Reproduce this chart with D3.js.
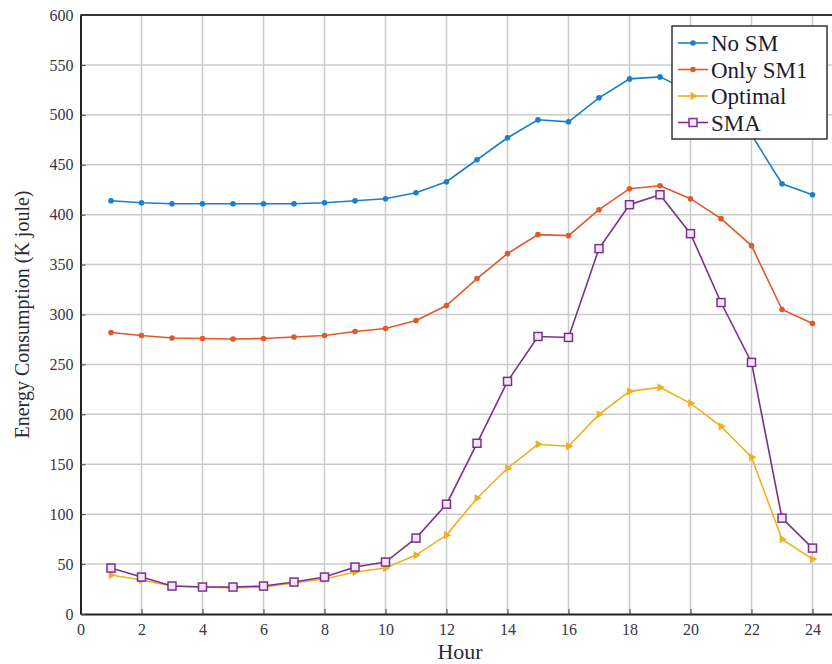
<!DOCTYPE html>
<html>
<head>
<meta charset="utf-8">
<script src="https://cdn.jsdelivr.net/npm/d3@7"></script>
<style>
  body { margin: 0; background: #fff; }
  svg { display: block; font-family: "Liberation Serif", "DejaVu Serif", serif; }
</style>
</head>
<body>
<div id="chart"></div>
<script>
// hours on the x axis
const hours = d3.range(1, 25);

const noSM = [414, 412, 411, 411, 411, 411, 411, 412, 414, 416, 422, 433,
              455, 477, 495, 493, 517, 536, 538, 523, 505, 480, 431, 420];
const onlySM1 = [282, 279, 276.5, 276, 275.5, 276, 277.5, 279, 283, 286, 294, 309,
                 336, 361, 380, 379, 405, 426, 429, 416, 396, 369, 305, 291];
const optimal = [39, 34, 28, 27, 26, 27, 31, 35, 42, 46, 59, 79,
                 116, 146, 170, 168, 200, 223, 227, 211, 188, 157, 75, 55];
const sma = [46, 37, 28, 27, 27, 28, 32, 37, 47, 52, 76, 110,
             171, 233, 278, 277, 366, 410, 420, 381, 312, 252, 96, 66];

const seriesNames = ["No SM", "Only SM1", "Optimal", "SMA"];
const seriesColors = ["#1a7ecf", "#E0592A", "#EDB120", "#7E2F8E"];
const seriesMarkers = ["dot", "dot", "triangle", "square"];

const xTicks = d3.range(0, 25, 2);
const yTicks = d3.range(0, 601, 50);

const settings = {
  width: 832,
  height: 664,
  margins: { top: 15, left: 80.5, bottom: 50 }
};

const allSeries = [noSM, onlySM1, optimal, sma].map((vals, i) => ({
  name: seriesNames[i],
  color: seriesColors[i],
  marker: seriesMarkers[i],
  values: vals.map((v, j) => ({ h: hours[j], v: v }))
}));

const svg = d3.select("#chart").append("svg")
  .attr("width", settings.width)
  .attr("height", settings.height);

const plotBottom = settings.height - settings.margins.bottom;

// x axis runs a bit past 24, the right side is cut off by the picture edge
const x = d3.scaleLinear().domain([0, 25]).range([settings.margins.left, settings.margins.left + 25 * 30.5]);
const y = d3.scaleLinear().domain([0, 600]).range([plotBottom, settings.margins.top]);

// grid
svg.append("g").selectAll("line.vgrid")
  .data(xTicks.filter(d => d > 0))
  .join("line")
  .attr("x1", d => x(d)).attr("x2", d => x(d))
  .attr("y1", y(0)).attr("y2", y(600))
  .attr("stroke", "#cbcbcb").attr("stroke-width", 1.5);

svg.append("g").selectAll("line.hgrid")
  .data(yTicks.filter(d => d > 0))
  .join("line")
  .attr("x1", x(0)).attr("x2", settings.width)
  .attr("y1", d => y(d)).attr("y2", d => y(d))
  .attr("stroke", "#cbcbcb").attr("stroke-width", 1.5);

// axes
const xAxis = svg.append("g")
  .attr("transform", `translate(0,${plotBottom})`)
  .call(d3.axisBottom(x).tickValues(xTicks).tickSizeInner(-5).tickSizeOuter(0).tickPadding(10));
const yAxis = svg.append("g")
  .attr("transform", `translate(${settings.margins.left},0)`)
  .call(d3.axisLeft(y).tickValues(yTicks).tickSizeInner(-5).tickSizeOuter(0).tickPadding(7));

[xAxis, yAxis].forEach(a => {
  a.select(".domain").attr("stroke", "#222").attr("stroke-width", 2);
  a.selectAll(".tick line").attr("stroke", "#444").attr("stroke-width", 1);
  a.selectAll(".tick text")
    .attr("fill", "#34364a")
    .style("font-size", "16px")
    .style("font-family", "Liberation Serif, serif");
});

// top border
svg.append("line")
  .attr("x1", x(0)).attr("x2", settings.width)
  .attr("y1", y(600)).attr("y2", y(600))
  .attr("stroke", "#333").attr("stroke-width", 2);

// axis labels
svg.append("text")
  .attr("x", 460).attr("y", 659)
  .attr("text-anchor", "middle")
  .attr("fill", "#2a2a3a")
  .style("font-size", "22px")
  .text("Hour");

svg.append("text")
  .attr("transform", `translate(29,${(y(0) + y(600)) / 2}) rotate(-90)`)
  .attr("text-anchor", "middle")
  .attr("fill", "#2a2a3a")
  .style("font-size", "20px")
  .text("Energy Consumption (K joule)");

// lines and markers
const line = d3.line().x(d => x(d.h)).y(d => y(d.v));

function drawMarker(g, marker, color) {
  if (marker === "dot") {
    g.append("circle").attr("r", 2.8).attr("fill", color);
  } else if (marker === "triangle") {
    g.append("path")
      .attr("d", d3.symbol().type(d3.symbolTriangle).size(30)())
      .attr("transform", "rotate(90)")
      .attr("fill", color);
  } else {
    g.append("rect")
      .attr("x", -4).attr("y", -4).attr("width", 8).attr("height", 8)
      .attr("fill", "#efe8f2").attr("stroke", color).attr("stroke-width", 1.5);
  }
}

allSeries.forEach(s => {
  svg.append("path")
    .datum(s.values)
    .attr("d", line)
    .attr("fill", "none")
    .attr("stroke", s.color)
    .attr("stroke-width", 1.6);

  svg.append("g").selectAll("g")
    .data(s.values)
    .join("g")
    .attr("transform", d => `translate(${x(d.h)},${y(d.v)})`)
    .each(function () { drawMarker(d3.select(this), s.marker, s.color); });
});

// legend
const legend = svg.append("g").attr("transform", "translate(672,26)");
legend.append("rect")
  .attr("width", 155).attr("height", 113)
  .attr("fill", "#fff").attr("stroke", "#333").attr("stroke-width", 1.5);

allSeries.forEach((s, i) => {
  const row = legend.append("g").attr("transform", `translate(0,${17 + i * 26.5})`);
  row.append("line")
    .attr("x1", 6).attr("x2", 36)
    .attr("stroke", s.color).attr("stroke-width", 1.6);
  drawMarker(row.append("g").attr("transform", "translate(21,0)"), s.marker, s.color);
  row.append("text")
    .attr("x", 39).attr("y", 0).attr("dy", "0.35em")
    .attr("fill", "#1c1c30")
    .style("font-size", "23px")
    .text(s.name);
});
</script>
</body>
</html>
